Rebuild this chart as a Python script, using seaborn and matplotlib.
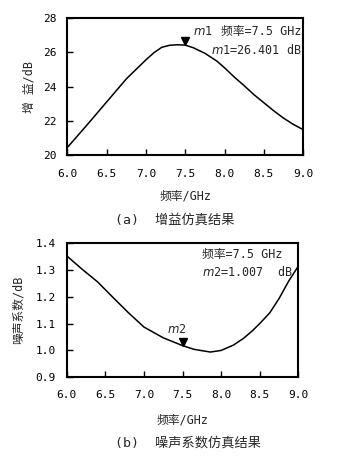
import matplotlib
matplotlib.use("Agg")
import matplotlib.pyplot as plt
import seaborn as sns
import pandas as pd

# ---- data ----
gain_freq = [6.0, 6.25, 6.5, 6.75, 7.0, 7.1, 7.2, 7.3, 7.4, 7.5, 7.6, 7.75, 7.9, 8.0,
             8.125, 8.25, 8.375, 8.5, 8.625, 8.75, 8.875, 9.0]
gain_db = [20.43, 21.75, 23.1, 24.45, 25.57, 25.98, 26.3, 26.42, 26.45, 26.43, 26.28, 25.95,
           25.5, 25.1, 24.55, 24.05, 23.52, 23.05, 22.58, 22.15, 21.78, 21.47]

nf_freq = [6.0, 6.2, 6.4, 6.6, 6.8, 7.0, 7.25, 7.5, 7.65, 7.86, 8.0, 8.16, 8.29, 8.4,
           8.5, 8.63, 8.75, 8.875, 9.0]
nf_db = [1.352, 1.302, 1.255, 1.197, 1.14, 1.087, 1.047, 1.018, 1.004, 0.994, 1.0, 1.02,
         1.045, 1.072, 1.10, 1.14, 1.193, 1.258, 1.314]

x_ticks = [6.0, 6.5, 7.0, 7.5, 8.0, 8.5, 9.0]
x_ticklabels = ["6.0", "6.5", "7.0", "7.5", "8.0", "8.5", "9.0"]
gain_ticks = [20, 22, 24, 26, 28]
nf_ticks = [0.9, 1.0, 1.1, 1.2, 1.3, 1.4]
nf_ticklabels = ["0.9", "1.0", "1.1", "1.2", "1.3", "1.4"]

marker_freq = 7.5
m1_value = "26.401"
m2_value = "1.007"

sns.set_theme(style="ticks")
plt.rcParams['font.family'] = ['DejaVu Sans Mono', 'Noto Sans CJK SC']
plt.rcParams['mathtext.fontset'] = 'dejavusans'
plt.rcParams['axes.unicode_minus'] = False

fig = plt.figure(figsize=(3.39, 4.59), dpi=100)
ax1 = fig.add_axes([0.199, 0.663, 0.695, 0.297])
ax2 = fig.add_axes([0.197, 0.178, 0.683, 0.2926])

df1 = pd.DataFrame({"f": gain_freq, "g": gain_db})
df2 = pd.DataFrame({"f": nf_freq, "n": nf_db})

sns.lineplot(data=df1, x="f", y="g", ax=ax1, color="black", linewidth=1.1)
sns.lineplot(data=df2, x="f", y="n", ax=ax2, color="black", linewidth=1.1)

for ax in (ax1, ax2):
    for s in ax.spines.values():
        s.set_linewidth(1.5)
        s.set_color("black")
    ax.set_xlim(6.0, 9.0)
    ax.set_xticks(x_ticks)
    ax.set_xticklabels(x_ticklabels)
    ax.tick_params(axis="both", direction="in", length=4, width=1.0,
                   labelsize=8, colors="black")
    ax.set_facecolor("white")

ax1.set_ylim(20, 28)
ax1.set_yticks(gain_ticks)
ax1.tick_params(axis="x", pad=10)
ax1.tick_params(axis="y", pad=8)
ax1.set_xlabel("频率/GHz", fontsize=8.5, labelpad=8)
ax1.set_ylabel("增 益/dB", fontsize=8.5, labelpad=5)

ax2.set_ylim(0.9, 1.4)
ax2.set_yticks(nf_ticks)
ax2.set_yticklabels(nf_ticklabels)
ax2.tick_params(axis="x", pad=9)
ax2.tick_params(axis="y", pad=8)
ax2.set_xlabel("频率/GHz", fontsize=8.5, labelpad=10)
ax2.set_ylabel("噪声系数/dB", fontsize=8.5, labelpad=8)

# markers
ax1.plot([marker_freq], [26.68], marker="v", color="black", markersize=6)
ax1.text(7.6, 27.22, "$m$1", fontsize=8.5, ha="left", va="center")
ax1.text(8.98, 27.2, "频率=7.5 GHz", fontsize=8.5, ha="right", va="center")
ax1.text(8.98, 26.16, "$m$1=" + m1_value + " dB", fontsize=8.5, ha="right", va="center")

ax2.plot([marker_freq], [1.031], marker="v", color="black", markersize=6)
ax2.text(7.43, 1.077, "$m$2", fontsize=8.5, ha="center", va="center")
ax2.text(7.755, 1.359, "频率=7.5 GHz", fontsize=8.5, ha="left", va="center")
ax2.text(7.755, 1.293, "$m$2=" + m2_value + "  dB", fontsize=8.5, ha="left", va="center")

fig.text(115 / 339, 1 - 220 / 459, "(a)  增益仿真结果", fontsize=9.5, ha="left", va="center")
fig.text(115 / 339, 1 - 443 / 459, "(b)  噪声系数仿真结果", fontsize=9.5, ha="left", va="center")

fig.savefig("out.png", dpi=100, facecolor="white")
